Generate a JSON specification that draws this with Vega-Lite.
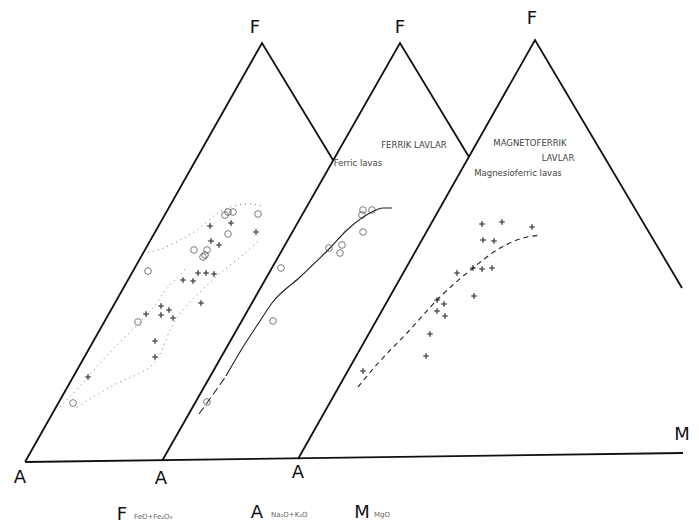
{
  "$schema": "https://vega.github.io/schema/vega-lite/v6.json",
  "width": 699,
  "height": 526,
  "autosize": {"type": "none"},
  "padding": 0,
  "background": "white",
  "config": {"view": {"stroke": null}},
  "datasets": {
    "edges": [
      {"s": "T1", "o": 1, "x": 25, "y": 462},
      {"s": "T1", "o": 2, "x": 262, "y": 43},
      {"s": "T1", "o": 3, "x": 333, "y": 160},
      {"s": "T2", "o": 1, "x": 162, "y": 461},
      {"s": "T2", "o": 2, "x": 400, "y": 43},
      {"s": "T2", "o": 3, "x": 469, "y": 157},
      {"s": "T3", "o": 1, "x": 298, "y": 459},
      {"s": "T3", "o": 2, "x": 535, "y": 40},
      {"s": "T3", "o": 3, "x": 682, "y": 288},
      {"s": "base", "o": 1, "x": 25, "y": 462},
      {"s": "base", "o": 2, "x": 683, "y": 453}
    ],
    "env": [
      {"s": "top", "o": 1, "x": 143, "y": 253},
      {"s": "top", "o": 2, "x": 158, "y": 250},
      {"s": "top", "o": 3, "x": 180, "y": 240},
      {"s": "top", "o": 4, "x": 200, "y": 228},
      {"s": "top", "o": 5, "x": 215, "y": 215},
      {"s": "top", "o": 6, "x": 230, "y": 207},
      {"s": "top", "o": 7, "x": 250, "y": 204},
      {"s": "top", "o": 8, "x": 262, "y": 206},
      {"s": "left", "o": 1, "x": 60, "y": 407},
      {"s": "left", "o": 2, "x": 80, "y": 386},
      {"s": "left", "o": 3, "x": 100, "y": 363},
      {"s": "left", "o": 4, "x": 122, "y": 340},
      {"s": "left", "o": 5, "x": 140, "y": 322},
      {"s": "left", "o": 6, "x": 155, "y": 305},
      {"s": "left", "o": 7, "x": 164, "y": 292},
      {"s": "left", "o": 8, "x": 175, "y": 280},
      {"s": "left", "o": 9, "x": 186, "y": 268},
      {"s": "right", "o": 1, "x": 77, "y": 407},
      {"s": "right", "o": 2, "x": 100, "y": 393},
      {"s": "right", "o": 3, "x": 120, "y": 382},
      {"s": "right", "o": 4, "x": 140, "y": 373},
      {"s": "right", "o": 5, "x": 153, "y": 364},
      {"s": "right", "o": 6, "x": 161, "y": 352},
      {"s": "right", "o": 7, "x": 167, "y": 337},
      {"s": "right", "o": 8, "x": 175, "y": 321},
      {"s": "right", "o": 9, "x": 188, "y": 304},
      {"s": "right", "o": 10, "x": 202, "y": 290},
      {"s": "right", "o": 11, "x": 216, "y": 277},
      {"s": "right", "o": 12, "x": 229, "y": 266},
      {"s": "right", "o": 13, "x": 243, "y": 255},
      {"s": "right", "o": 14, "x": 258, "y": 241}
    ],
    "solid": [
      {"o": 1, "x": 226, "y": 376},
      {"o": 2, "x": 243, "y": 347},
      {"o": 3, "x": 258, "y": 324},
      {"o": 4, "x": 272, "y": 303},
      {"o": 5, "x": 300, "y": 277},
      {"o": 6, "x": 330, "y": 248},
      {"o": 7, "x": 347, "y": 230},
      {"o": 8, "x": 370, "y": 213},
      {"o": 9, "x": 383, "y": 208},
      {"o": 10, "x": 392, "y": 208}
    ],
    "solidTail": [
      {"o": 1, "x": 199, "y": 414},
      {"o": 2, "x": 212, "y": 396},
      {"o": 3, "x": 226, "y": 376}
    ],
    "dashed": [
      {"o": 1, "x": 358, "y": 387},
      {"o": 2, "x": 380, "y": 361},
      {"o": 3, "x": 407, "y": 333},
      {"o": 4, "x": 440, "y": 297},
      {"o": 5, "x": 473, "y": 268},
      {"o": 6, "x": 500, "y": 248},
      {"o": 7, "x": 520, "y": 239},
      {"o": 8, "x": 540, "y": 235}
    ],
    "circles": [
      {"x": 228, "y": 212}, {"x": 233, "y": 212}, {"x": 225, "y": 215},
      {"x": 258, "y": 214}, {"x": 228, "y": 234}, {"x": 194, "y": 250},
      {"x": 207, "y": 250}, {"x": 205, "y": 255}, {"x": 203, "y": 257},
      {"x": 148, "y": 271}, {"x": 138, "y": 322}, {"x": 73, "y": 403},
      {"x": 363, "y": 210}, {"x": 372, "y": 210}, {"x": 362, "y": 215},
      {"x": 363, "y": 232}, {"x": 329, "y": 248}, {"x": 342, "y": 245},
      {"x": 340, "y": 253}, {"x": 281, "y": 268}, {"x": 273, "y": 321},
      {"x": 207, "y": 402}
    ],
    "crosses": [
      {"x": 210, "y": 226}, {"x": 231, "y": 223}, {"x": 256, "y": 232},
      {"x": 211, "y": 241}, {"x": 219, "y": 245}, {"x": 198, "y": 273},
      {"x": 206, "y": 273}, {"x": 214, "y": 274}, {"x": 193, "y": 281},
      {"x": 183, "y": 280}, {"x": 201, "y": 303}, {"x": 161, "y": 306},
      {"x": 169, "y": 310}, {"x": 146, "y": 314}, {"x": 161, "y": 315},
      {"x": 173, "y": 318}, {"x": 155, "y": 341}, {"x": 155, "y": 357},
      {"x": 88, "y": 377},
      {"x": 482, "y": 224}, {"x": 502, "y": 222}, {"x": 532, "y": 227},
      {"x": 483, "y": 240}, {"x": 494, "y": 241}, {"x": 457, "y": 273},
      {"x": 473, "y": 268}, {"x": 482, "y": 269}, {"x": 492, "y": 268},
      {"x": 474, "y": 296}, {"x": 437, "y": 300}, {"x": 444, "y": 304},
      {"x": 437, "y": 311}, {"x": 445, "y": 316}, {"x": 430, "y": 334},
      {"x": 426, "y": 356}, {"x": 363, "y": 371}
    ],
    "big": [
      {"t": "F", "x": 255, "y": 28},
      {"t": "F", "x": 400, "y": 28},
      {"t": "F", "x": 532, "y": 19},
      {"t": "A", "x": 20, "y": 478},
      {"t": "A", "x": 161, "y": 479},
      {"t": "A", "x": 298, "y": 473},
      {"t": "M", "x": 682, "y": 435},
      {"t": "F", "x": 122, "y": 515},
      {"t": "A", "x": 257, "y": 513},
      {"t": "M", "x": 362, "y": 513}
    ],
    "sub": [
      {"t": "FeO+Fe₂O₃", "x": 134, "y": 517},
      {"t": "Na₂O+K₂O", "x": 271, "y": 515},
      {"t": "MgO", "x": 374, "y": 515}
    ],
    "small": [
      {"t": "FERRIK  LAVLAR", "x": 414, "y": 145},
      {"t": "Ferric  lavas", "x": 358, "y": 163},
      {"t": "MAGNETOFERRIK", "x": 530, "y": 143},
      {"t": "LAVLAR", "x": 558, "y": 158},
      {"t": "Magnesioferric  lavas", "x": 518, "y": 173}
    ]
  },
  "encoding": {
    "x": {"field": "x", "type": "quantitative", "scale": {"domain": [0, 699], "nice": false, "zero": false}, "axis": null},
    "y": {"field": "y", "type": "quantitative", "scale": {"domain": [0, 526], "nice": false, "zero": false, "reverse": true}, "axis": null}
  },
  "layer": [
    {
      "data": {"name": "env"},
      "mark": {"type": "line", "stroke": "#777777", "strokeWidth": 1, "strokeDash": [1, 4], "interpolate": "monotone"},
      "encoding": {"detail": {"field": "s"}, "order": {"field": "o"}}
    },
    {
      "data": {"name": "solid"},
      "mark": {"type": "line", "stroke": "#222222", "strokeWidth": 1.1, "interpolate": "monotone"},
      "encoding": {"order": {"field": "o"}}
    },
    {
      "data": {"name": "solidTail"},
      "mark": {"type": "line", "stroke": "#222222", "strokeWidth": 1.1, "strokeDash": [8, 4]},
      "encoding": {"order": {"field": "o"}}
    },
    {
      "data": {"name": "dashed"},
      "mark": {"type": "line", "stroke": "#222222", "strokeWidth": 1.1, "strokeDash": [5, 4], "interpolate": "monotone"},
      "encoding": {"order": {"field": "o"}}
    },
    {
      "data": {"name": "edges"},
      "mark": {"type": "line", "stroke": "#111111", "strokeWidth": 1.8},
      "encoding": {"detail": {"field": "s"}, "order": {"field": "o"}}
    },
    {
      "data": {"name": "circles"},
      "mark": {"type": "point", "shape": "circle", "filled": false, "stroke": "#444444", "strokeWidth": 1, "size": 45}
    },
    {
      "data": {"name": "crosses"},
      "mark": {"type": "point", "shape": "M -1 0 L 1 0 M 0 -1 L 0 1", "filled": false, "stroke": "#111111", "strokeWidth": 1.6, "size": 30}
    },
    {
      "data": {"name": "big"},
      "mark": {"type": "text", "font": "DejaVu Sans", "fontSize": 18, "align": "center", "baseline": "middle", "fill": "#111111"},
      "encoding": {"text": {"field": "t"}}
    },
    {
      "data": {"name": "sub"},
      "mark": {"type": "text", "font": "DejaVu Sans", "fontSize": 7, "align": "left", "baseline": "middle", "fill": "#666666"},
      "encoding": {"text": {"field": "t"}}
    },
    {
      "data": {"name": "small"},
      "mark": {"type": "text", "font": "DejaVu Sans", "fontSize": 8.5, "align": "center", "baseline": "middle", "fill": "#444444"},
      "encoding": {"text": {"field": "t"}}
    }
  ]
}
